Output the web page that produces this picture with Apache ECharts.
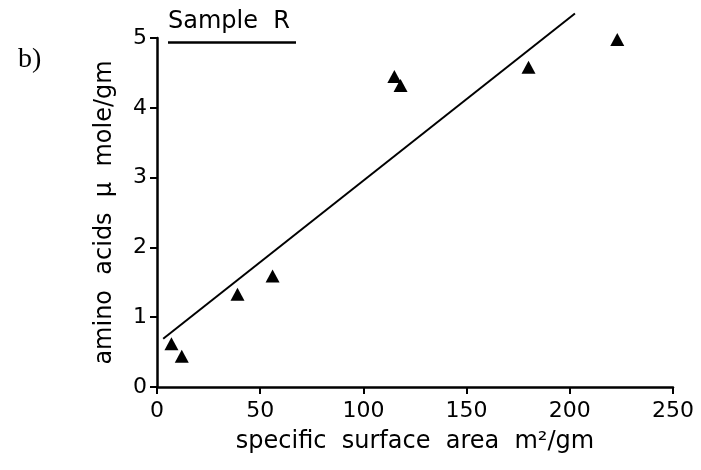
<!DOCTYPE html>
<html>
<head>
<meta charset="utf-8">
<script src="https://cdn.jsdelivr.net/npm/echarts@6/dist/echarts.min.js"></script>
<style>
  html, body { margin: 0; padding: 0; background: #fff; }
  #chart { width: 701px; height: 470px; }
</style>
</head>
<body>
<div id="chart"></div>
<script>
// Specific surface area (m²/gm) and amino acid uptake (µmole/gm), Sample R
const surfaceArea = [7, 12, 39, 56, 115, 118, 180, 223];
const aminoAcids = [0.62, 0.44, 1.33, 1.59, 4.45, 4.32, 4.58, 4.98];

// Fitted straight line endpoints
const fitX = [3, 202.5];
const fitY = [0.69, 5.35];

// Axis ranges and tick spacing
const xRange = [0, 250];
const xStep = 50;
const yRange = [0, 5];
const yStep = 1;

const labelFont = 'DejaVu Sans';
const ink = '#000';

const points = surfaceArea.map((x, i) => [x, aminoAcids[i]]);
const fitLine = fitX.map((x, i) => [x, fitY[i]]);

const chart = echarts.init(document.getElementById('chart'), null, { renderer: 'canvas' });

chart.setOption({
  backgroundColor: '#fff',
  animation: false,
  grid: { left: 157, right: 28, top: 38, bottom: 83 },
  xAxis: {
    type: 'value',
    min: xRange[0], max: xRange[1], interval: xStep,
    name: 'specific  surface  area  m²/gm',
    nameLocation: 'middle',
    nameGap: 43,
    nameTextStyle: { fontFamily: labelFont, fontSize: 24, color: ink },
    axisLine: { show: true, onZero: false, lineStyle: { color: ink, width: 2.5 } },
    axisTick: { show: true, inside: false, length: 7, lineStyle: { color: ink, width: 2 } },
    axisLabel: { margin: 13, fontFamily: labelFont, fontSize: 22, color: ink },
    splitLine: { show: false }
  },
  yAxis: {
    type: 'value',
    min: yRange[0], max: yRange[1], interval: yStep,
    name: 'amino  acids  μ  mole/gm',
    nameLocation: 'middle',
    nameGap: 40,
    nameRotate: 90,
    nameTextStyle: { fontFamily: labelFont, fontSize: 24, color: ink },
    axisLine: { show: true, onZero: false, lineStyle: { color: ink, width: 2.5 } },
    axisTick: { show: true, inside: false, length: 7, lineStyle: { color: ink, width: 2 } },
    axisLabel: { margin: 10, fontFamily: labelFont, fontSize: 22, color: ink },
    splitLine: { show: false }
  },
  graphic: [
    {
      type: 'text', left: 168, top: 10,
      style: { text: 'Sample  R', font: '24px "DejaVu Sans"', fill: ink }
    },
    {
      type: 'line',
      shape: { x1: 168, y1: 42.5, x2: 296, y2: 42.5 },
      style: { stroke: ink, lineWidth: 2.5 }
    },
    {
      type: 'text', left: 18, top: 46,
      style: { text: 'b)', font: '28px "Liberation Serif"', fill: ink }
    }
  ],
  series: [
    {
      type: 'line',
      data: fitLine,
      showSymbol: false,
      symbol: 'none',
      clip: false,
      lineStyle: { color: ink, width: 2 },
      silent: true
    },
    {
      type: 'scatter',
      data: points,
      symbol: 'triangle',
      symbolSize: [14, 13],
      itemStyle: { color: ink, opacity: 1 },
      clip: false
    }
  ]
});
</script>
</body>
</html>
